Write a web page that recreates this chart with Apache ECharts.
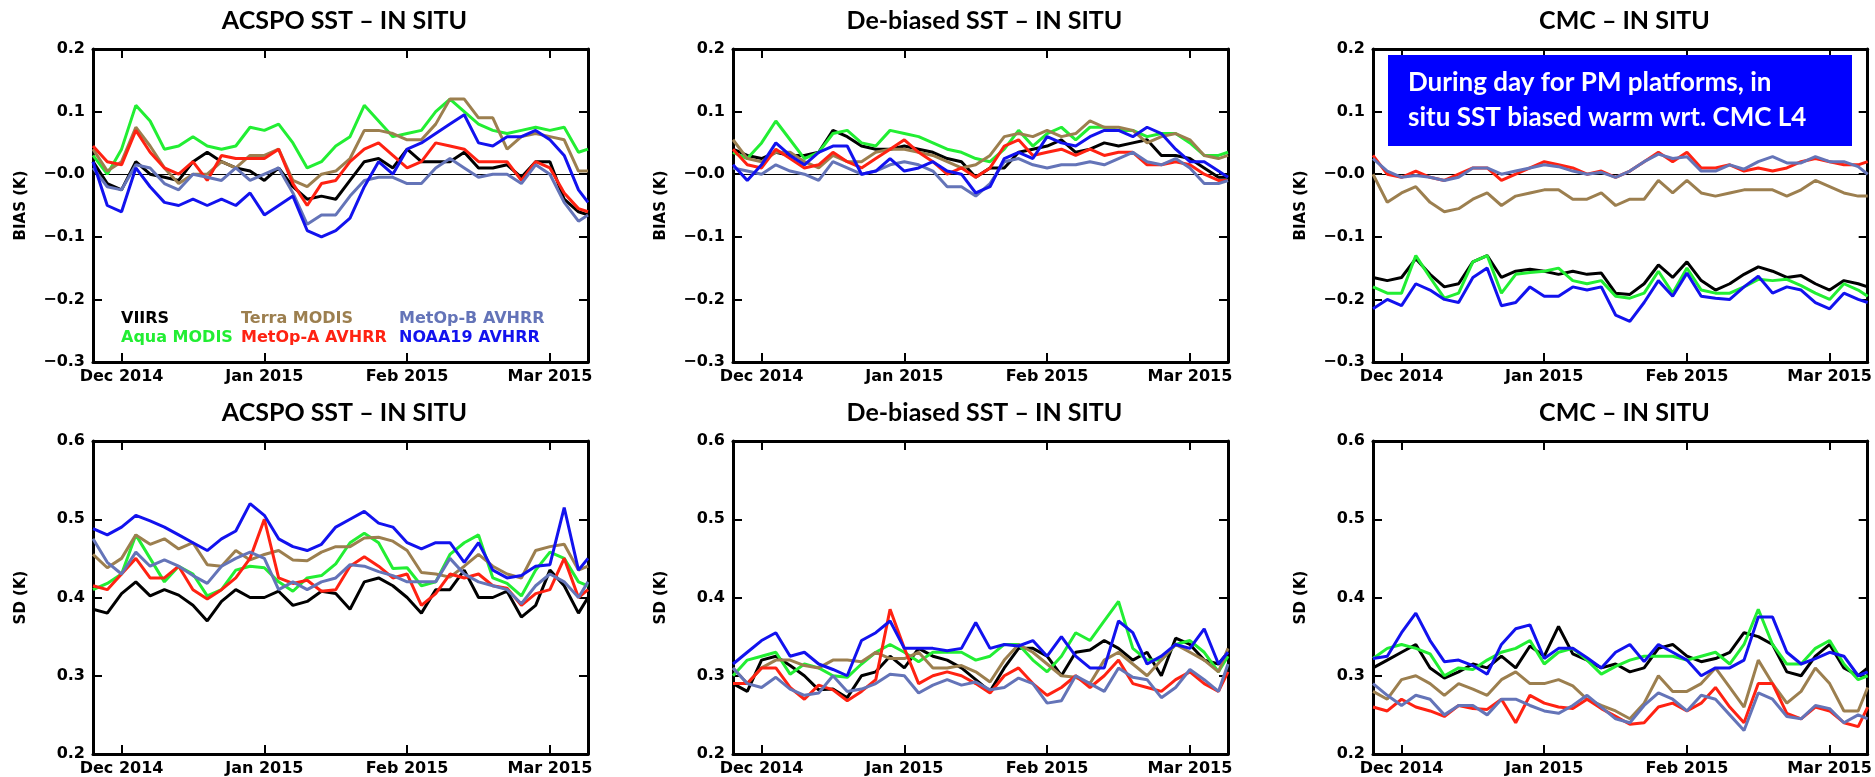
<!DOCTYPE html>
<html>
<head>
<meta charset="utf-8">
<title>SST bias and SD vs in situ</title>
<script src="https://cdn.jsdelivr.net/npm/echarts@6/dist/echarts.min.js"></script>
<style>
html, body { margin: 0; background: #fff; }
#main { width: 1875px; height: 777px; }
</style>
</head>
<body>
<div id="main"></div>
<script>
// days counted from 1 Dec 2014, ticks every 30 days as in the original plot
const days = [-6,-3,0,3,6,9,12,15,18,21,24,27,30,33,36,39,42,45,48,51,54,57,60,63,66,69,72,75,78,81,84,87,90,93,96,98];
const monthTicks = [0, 30, 60, 90];
const monthLabels = ['Dec 2014', 'Jan 2015', 'Feb 2015', 'Mar 2015'];

const satellites = ['VIIRS', 'Aqua MODIS', 'Terra MODIS', 'MetOp-A AVHRR', 'MetOp-B AVHRR', 'NOAA19 AVHRR'];
const colors = ['#000000', '#22ee33', '#9c7f4f', '#ff2212', '#6474b8', '#1212ee'];

const panelTitles = ['ACSPO SST \u2013 IN SITU', 'De-biased SST \u2013 IN SITU', 'CMC \u2013 IN SITU',
                     'ACSPO SST \u2013 IN SITU', 'De-biased SST \u2013 IN SITU', 'CMC \u2013 IN SITU'];

// bias (K), one row per satellite in the order above
const acspoBias = [
  [0.02,-0.015,-0.025,0.02,0.0,-0.005,-0.01,0.02,0.035,0.02,0.01,0.005,-0.01,0.01,-0.02,-0.04,-0.035,-0.04,-0.01,0.02,0.025,0.01,0.04,0.02,0.02,0.02,0.035,0.01,0.01,0.015,-0.005,0.02,0.02,-0.04,-0.06,-0.065],
  [0.03,0.0,0.04,0.11,0.085,0.04,0.045,0.06,0.045,0.04,0.045,0.075,0.07,0.08,0.05,0.01,0.02,0.045,0.06,0.11,0.085,0.06,0.065,0.07,0.1,0.12,0.1,0.08,0.07,0.065,0.07,0.075,0.07,0.075,0.035,0.04],
  [0.04,0.005,0.02,0.075,0.045,0.01,-0.015,0.0,0.0,0.02,0.01,0.03,0.03,0.04,-0.01,-0.02,0.0,0.005,0.025,0.07,0.07,0.065,0.055,0.055,0.08,0.12,0.12,0.09,0.09,0.04,0.06,0.065,0.06,0.055,0.005,0.005],
  [0.045,0.02,0.015,0.07,0.035,0.01,0.0,0.02,-0.01,0.03,0.025,0.025,0.025,0.04,-0.015,-0.05,-0.015,-0.01,0.02,0.04,0.05,0.03,0.01,0.02,0.05,0.045,0.04,0.02,0.02,0.02,-0.01,0.02,0.01,-0.03,-0.055,-0.06],
  [0.01,-0.02,-0.025,0.015,0.01,-0.015,-0.025,0.0,-0.005,-0.01,0.01,-0.01,0.0,0.01,-0.03,-0.08,-0.065,-0.065,-0.035,-0.01,-0.005,-0.005,-0.015,-0.015,0.01,0.025,0.01,-0.005,0.0,0.0,-0.015,0.015,0.0,-0.045,-0.075,-0.065],
  [0.02,-0.05,-0.06,0.01,-0.02,-0.045,-0.05,-0.04,-0.05,-0.04,-0.05,-0.03,-0.065,-0.05,-0.035,-0.09,-0.1,-0.09,-0.07,-0.02,0.02,0.0,0.04,0.05,0.065,0.08,0.095,0.05,0.045,0.06,0.06,0.07,0.055,0.03,-0.025,-0.045]
];
const debiasBias = [
  [0.04,0.03,0.025,0.035,0.03,0.03,0.035,0.07,0.06,0.045,0.04,0.04,0.045,0.04,0.035,0.025,0.02,-0.005,0.01,0.01,0.035,0.04,0.045,0.055,0.035,0.04,0.05,0.045,0.05,0.055,0.03,0.03,0.025,0.01,-0.005,-0.005],
  [0.035,0.025,0.05,0.085,0.055,0.025,0.035,0.065,0.07,0.05,0.045,0.07,0.065,0.06,0.05,0.04,0.035,0.025,0.02,0.04,0.07,0.045,0.065,0.075,0.055,0.075,0.075,0.07,0.07,0.06,0.065,0.065,0.05,0.03,0.03,0.035],
  [0.055,0.025,0.02,0.035,0.035,0.02,0.01,0.03,0.02,0.02,0.035,0.04,0.04,0.035,0.03,0.02,0.01,0.015,0.03,0.06,0.065,0.06,0.07,0.06,0.065,0.085,0.075,0.075,0.07,0.05,0.06,0.065,0.055,0.03,0.025,0.03],
  [0.04,0.015,0.01,0.04,0.025,0.01,0.015,0.035,0.02,0.01,0.025,0.04,0.055,0.035,0.02,0.0,0.01,-0.005,0.01,0.045,0.055,0.03,0.035,0.04,0.03,0.04,0.03,0.035,0.035,0.015,0.015,0.02,0.015,0.0,-0.01,-0.01],
  [0.01,0.005,0.0,0.015,0.005,0.0,-0.01,0.02,0.01,0.0,0.005,0.015,0.02,0.015,0.005,-0.02,-0.02,-0.035,-0.015,0.02,0.025,0.015,0.01,0.015,0.015,0.02,0.015,0.025,0.035,0.02,0.015,0.025,0.01,-0.015,-0.015,-0.01],
  [0.015,-0.01,0.015,0.05,0.03,0.015,0.035,0.045,0.045,0.0,0.005,0.025,0.005,0.01,0.02,0.005,0.0,-0.03,-0.02,0.025,0.035,0.025,0.06,0.05,0.045,0.06,0.07,0.07,0.06,0.075,0.065,0.04,0.02,0.02,0.005,-0.005]
];
const cmcBias = [
  [-0.165,-0.17,-0.165,-0.135,-0.16,-0.18,-0.175,-0.14,-0.13,-0.165,-0.155,-0.152,-0.155,-0.16,-0.155,-0.16,-0.158,-0.19,-0.192,-0.175,-0.145,-0.165,-0.14,-0.17,-0.185,-0.175,-0.16,-0.148,-0.155,-0.165,-0.162,-0.175,-0.185,-0.17,-0.175,-0.18],
  [-0.18,-0.19,-0.19,-0.13,-0.165,-0.198,-0.19,-0.14,-0.13,-0.19,-0.16,-0.157,-0.155,-0.15,-0.17,-0.175,-0.17,-0.195,-0.198,-0.19,-0.155,-0.19,-0.15,-0.185,-0.19,-0.19,-0.18,-0.168,-0.17,-0.168,-0.178,-0.19,-0.2,-0.175,-0.185,-0.195],
  [0.0,-0.045,-0.03,-0.02,-0.045,-0.06,-0.055,-0.04,-0.03,-0.05,-0.035,-0.03,-0.025,-0.025,-0.04,-0.04,-0.03,-0.05,-0.04,-0.04,-0.01,-0.03,-0.01,-0.03,-0.035,-0.03,-0.025,-0.025,-0.025,-0.035,-0.025,-0.01,-0.02,-0.03,-0.035,-0.035],
  [0.03,0.0,-0.005,0.005,-0.005,-0.01,0.0,0.01,0.01,-0.01,0.0,0.01,0.02,0.015,0.01,0.0,0.005,-0.005,0.005,0.02,0.035,0.02,0.035,0.01,0.01,0.015,0.005,0.01,0.005,0.01,0.02,0.025,0.02,0.015,0.015,0.02],
  [0.025,0.005,-0.005,-0.002,-0.005,-0.01,-0.005,0.01,0.01,0.0,0.005,0.01,0.015,0.012,0.005,0.0,0.003,-0.005,0.005,0.02,0.032,0.025,0.028,0.005,0.005,0.015,0.008,0.02,0.028,0.018,0.018,0.028,0.02,0.02,0.012,0.0],
  [-0.215,-0.2,-0.21,-0.175,-0.185,-0.2,-0.205,-0.165,-0.15,-0.21,-0.205,-0.18,-0.195,-0.195,-0.18,-0.185,-0.18,-0.225,-0.235,-0.205,-0.17,-0.195,-0.158,-0.195,-0.198,-0.2,-0.18,-0.163,-0.19,-0.18,-0.185,-0.205,-0.215,-0.19,-0.2,-0.205]
];

// standard deviation (K)
const acspoSd = [
  [0.385,0.38,0.405,0.42,0.402,0.41,0.403,0.39,0.37,0.395,0.41,0.4,0.4,0.408,0.39,0.395,0.408,0.405,0.385,0.42,0.425,0.415,0.4,0.38,0.41,0.41,0.435,0.4,0.4,0.408,0.375,0.39,0.435,0.415,0.38,0.4],
  [0.41,0.418,0.43,0.48,0.45,0.42,0.44,0.43,0.402,0.41,0.435,0.44,0.438,0.42,0.408,0.425,0.428,0.443,0.47,0.482,0.47,0.437,0.438,0.415,0.42,0.455,0.47,0.48,0.425,0.418,0.402,0.435,0.458,0.45,0.42,0.415],
  [0.455,0.438,0.45,0.48,0.468,0.475,0.462,0.47,0.442,0.44,0.46,0.448,0.455,0.46,0.448,0.447,0.458,0.465,0.465,0.476,0.477,0.472,0.46,0.432,0.43,0.426,0.44,0.455,0.44,0.43,0.425,0.46,0.465,0.468,0.435,0.44],
  [0.415,0.41,0.43,0.45,0.425,0.425,0.44,0.41,0.398,0.41,0.425,0.45,0.5,0.425,0.418,0.422,0.408,0.41,0.44,0.452,0.44,0.425,0.43,0.39,0.405,0.43,0.425,0.43,0.415,0.412,0.39,0.405,0.41,0.45,0.4,0.41],
  [0.475,0.445,0.43,0.458,0.44,0.448,0.44,0.428,0.418,0.44,0.45,0.458,0.45,0.41,0.42,0.41,0.42,0.425,0.442,0.44,0.433,0.428,0.42,0.42,0.42,0.45,0.43,0.42,0.415,0.41,0.392,0.415,0.43,0.42,0.4,0.42],
  [0.488,0.48,0.49,0.505,0.498,0.49,0.48,0.47,0.46,0.475,0.485,0.52,0.505,0.475,0.465,0.46,0.468,0.49,0.5,0.51,0.495,0.49,0.47,0.462,0.47,0.47,0.445,0.47,0.435,0.425,0.428,0.44,0.442,0.515,0.435,0.45]
];
const debiasSd = [
  [0.29,0.28,0.32,0.325,0.313,0.3,0.282,0.283,0.272,0.3,0.305,0.325,0.31,0.335,0.325,0.32,0.31,0.295,0.28,0.31,0.335,0.335,0.325,0.3,0.33,0.333,0.345,0.335,0.32,0.33,0.3,0.348,0.34,0.32,0.315,0.33],
  [0.3,0.32,0.325,0.33,0.302,0.315,0.31,0.3,0.298,0.315,0.33,0.34,0.33,0.318,0.33,0.33,0.33,0.32,0.325,0.34,0.34,0.32,0.305,0.325,0.355,0.345,0.37,0.395,0.335,0.32,0.32,0.34,0.345,0.33,0.305,0.325],
  [0.31,0.29,0.31,0.32,0.32,0.313,0.31,0.32,0.32,0.318,0.33,0.322,0.322,0.33,0.31,0.31,0.313,0.305,0.292,0.32,0.34,0.33,0.315,0.3,0.298,0.29,0.32,0.33,0.315,0.3,0.32,0.34,0.33,0.32,0.305,0.335],
  [0.29,0.29,0.31,0.31,0.285,0.27,0.288,0.282,0.268,0.28,0.295,0.385,0.335,0.29,0.3,0.305,0.3,0.29,0.278,0.3,0.31,0.29,0.275,0.285,0.3,0.285,0.3,0.32,0.29,0.285,0.28,0.295,0.305,0.29,0.28,0.305],
  [0.31,0.29,0.285,0.298,0.283,0.275,0.278,0.3,0.28,0.283,0.29,0.302,0.3,0.278,0.288,0.295,0.288,0.292,0.282,0.285,0.297,0.29,0.265,0.268,0.3,0.29,0.28,0.31,0.298,0.295,0.272,0.285,0.308,0.295,0.28,0.315],
  [0.315,0.33,0.345,0.355,0.325,0.33,0.315,0.308,0.3,0.345,0.355,0.37,0.335,0.335,0.335,0.332,0.335,0.368,0.335,0.34,0.338,0.345,0.325,0.35,0.325,0.31,0.31,0.37,0.355,0.315,0.325,0.34,0.335,0.36,0.315,0.33]
];
const cmcSd = [
  [0.31,0.32,0.33,0.34,0.31,0.297,0.305,0.315,0.31,0.325,0.31,0.338,0.325,0.363,0.328,0.32,0.31,0.315,0.305,0.31,0.335,0.34,0.325,0.318,0.322,0.33,0.355,0.35,0.34,0.305,0.3,0.325,0.34,0.31,0.3,0.31],
  [0.322,0.335,0.34,0.335,0.328,0.3,0.31,0.308,0.32,0.33,0.335,0.345,0.315,0.33,0.335,0.32,0.302,0.312,0.32,0.325,0.325,0.325,0.32,0.325,0.33,0.315,0.34,0.385,0.34,0.315,0.315,0.335,0.345,0.315,0.295,0.3],
  [0.28,0.27,0.295,0.3,0.29,0.275,0.29,0.283,0.275,0.295,0.305,0.29,0.29,0.295,0.287,0.27,0.262,0.255,0.245,0.265,0.3,0.28,0.28,0.29,0.31,0.285,0.26,0.32,0.29,0.265,0.28,0.31,0.29,0.255,0.255,0.285],
  [0.26,0.255,0.27,0.26,0.255,0.248,0.262,0.258,0.257,0.27,0.24,0.275,0.265,0.26,0.258,0.27,0.258,0.248,0.238,0.24,0.26,0.265,0.255,0.265,0.285,0.26,0.24,0.29,0.29,0.252,0.245,0.26,0.255,0.24,0.235,0.26],
  [0.29,0.275,0.262,0.275,0.27,0.25,0.262,0.262,0.25,0.27,0.27,0.262,0.255,0.252,0.262,0.275,0.26,0.245,0.24,0.262,0.278,0.27,0.255,0.275,0.27,0.25,0.23,0.278,0.27,0.248,0.245,0.262,0.258,0.24,0.25,0.245],
  [0.322,0.325,0.355,0.38,0.345,0.318,0.32,0.313,0.302,0.34,0.36,0.365,0.322,0.335,0.335,0.323,0.31,0.33,0.34,0.318,0.34,0.33,0.32,0.3,0.31,0.31,0.32,0.375,0.375,0.33,0.315,0.322,0.33,0.325,0.3,0.305]
];

const panelValues = [acspoBias, debiasBias, cmcBias, acspoSd, debiasSd, cmcSd];

const colLeft = [93, 733, 1373];
const rowTop = [49, 441];
const plotW = 495, plotH = 313;

const tickFont = { fontFamily: 'DejaVu Sans', fontWeight: 'bold', fontSize: 16, color: '#000' };
const boxLine = { show: true, onZero: false, lineStyle: { color: '#000', width: 3 } };

function fmtBias(v) {
  if (v > 0.05) return v.toFixed(1);
  return '\u2212' + Math.abs(v).toFixed(1);
}

const grids = [], xAxes = [], yAxes = [], series = [], titles = [];

panelValues.forEach(function (vals, i) {
  const col = i % 3, row = Math.floor(i / 3);
  const isBias = row === 0;
  grids.push({ left: colLeft[col], top: rowTop[row], width: plotW, height: plotH, containLabel: false });

  const tick = { show: true, inside: true, length: 9, lineStyle: { color: '#000', width: 2 } };
  xAxes.push({
    gridIndex: i, type: 'value', min: -6, max: 98, position: 'bottom',
    axisLine: boxLine, splitLine: { show: false },
    axisTick: Object.assign({ customValues: monthTicks }, tick),
    axisLabel: Object.assign({ customValues: monthTicks, margin: 7,
      formatter: function (v) { return monthLabels[monthTicks.indexOf(v)]; } }, tickFont)
  });
  xAxes.push({
    gridIndex: i, type: 'value', min: -6, max: 98, position: 'top',
    axisLine: boxLine, splitLine: { show: false },
    axisTick: Object.assign({ customValues: monthTicks }, tick),
    axisLabel: { show: false }
  });

  const yRange = isBias ? { min: -0.3, max: 0.2 } : { min: 0.2, max: 0.6 };
  yAxes.push(Object.assign({
    gridIndex: i, type: 'value', interval: 0.1, position: 'left',
    name: isBias ? 'BIAS (K)' : 'SD (K)', nameLocation: 'middle', nameGap: 64, nameRotate: 90,
    nameTextStyle: { fontFamily: 'DejaVu Sans', fontWeight: 'bold', fontSize: 15, color: '#000' },
    axisLine: boxLine, splitLine: { show: false }, axisTick: tick,
    axisLabel: Object.assign({ margin: 8,
      formatter: isBias ? fmtBias : function (v) { return v.toFixed(1); } }, tickFont)
  }, yRange));
  yAxes.push(Object.assign({
    gridIndex: i, type: 'value', interval: 0.1, position: 'right',
    axisLine: boxLine, splitLine: { show: false }, axisTick: tick,
    axisLabel: { show: false }
  }, yRange));

  titles.push({
    text: panelTitles[i], left: colLeft[col] + plotW / 2 + 4, top: row === 0 ? 8 : 400,
    textAlign: 'center', padding: 0,
    textStyle: { fontFamily: 'Lato', fontWeight: 'bold', fontSize: 25, color: '#000' }
  });

  vals.forEach(function (v, k) {
    const s = {
      type: 'line', name: satellites[k],
      xAxisIndex: 2 * i, yAxisIndex: 2 * i,
      data: days.map(function (d, j) { return [d, v[j]]; }),
      showSymbol: false, symbol: 'none', animation: false,
      lineStyle: { color: colors[k], width: 3 },
      itemStyle: { color: colors[k] }
    };
    if (isBias && k === 0) {
      s.markLine = {
        silent: true, symbol: 'none', animation: false, z: 1,
        label: { show: false },
        lineStyle: { color: '#000', width: 1, type: 'solid' },
        data: [{ yAxis: 0 }]
      };
    }
    series.push(s);
  });
});

// legend written inside the first panel, three columns of two
function legendColumn(left, names) {
  return {
    orient: 'vertical', left: left, top: 309, padding: 0,
    itemWidth: 0, itemHeight: 0, itemGap: 0, icon: 'rect',
    textStyle: { fontFamily: 'DejaVu Sans', fontWeight: 'bold', fontSize: 16, lineHeight: 19 },
    data: names.map(function (n) {
      return { name: n, textStyle: { color: colors[satellites.indexOf(n)] } };
    })
  };
}

const chart = echarts.init(document.getElementById('main'));
chart.setOption({
  backgroundColor: '#fff',
  animation: false,
  title: titles,
  legend: [
    legendColumn(116, ['VIIRS', 'Aqua MODIS']),
    legendColumn(236, ['Terra MODIS', 'MetOp-A AVHRR']),
    legendColumn(394, ['MetOp-B AVHRR', 'NOAA19 AVHRR'])
  ],
  grid: grids,
  xAxis: xAxes,
  yAxis: yAxes,
  series: series,
  graphic: [
    { type: 'rect', z: 100, shape: { x: 1388, y: 55, width: 464, height: 91 }, style: { fill: '#0000ff' } },
    { type: 'text', z: 101, style: { text: 'During day for PM platforms, in', x: 1408, y: 83,
      fill: '#fff', fontFamily: 'Lato', fontWeight: 'bold', fontSize: 26, verticalAlign: 'middle' } },
    { type: 'text', z: 101, style: { text: 'situ SST biased warm wrt. CMC L4', x: 1408, y: 118,
      fill: '#fff', fontFamily: 'Lato', fontWeight: 'bold', fontSize: 26, verticalAlign: 'middle' } }
  ]
});
</script>
</body>
</html>
